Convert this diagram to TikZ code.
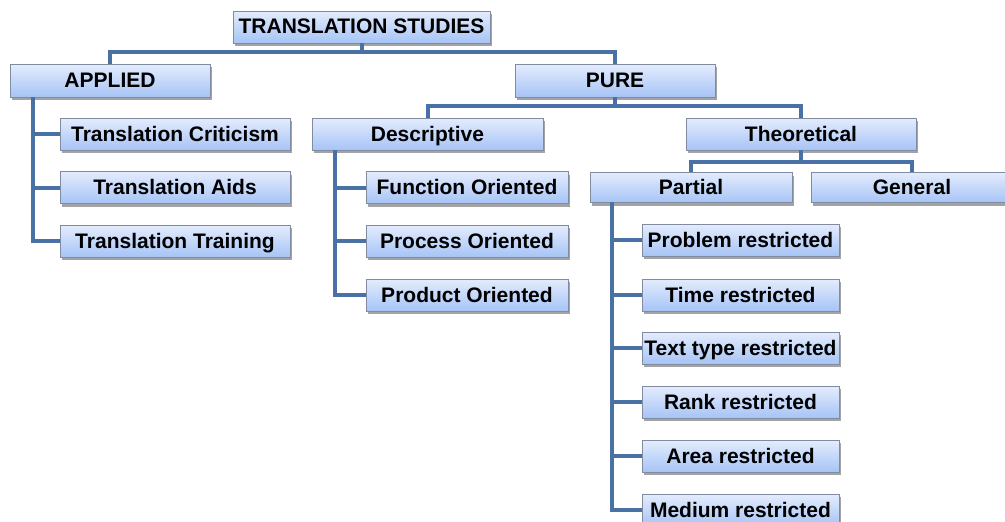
\documentclass[tikz,border=0pt]{standalone}
\usepackage{fontspec}
\setmainfont{Liberation Sans}
\usetikzlibrary{shadows}
\definecolor{boxtop}{RGB}{228,236,253}
\definecolor{boxbot}{RGB}{166,196,246}
\definecolor{boxline}{RGB}{130,140,160}
\definecolor{conncol}{RGB}{74,113,166}
\begin{document}
\begin{tikzpicture}[x=1pt,y=-1pt,
  tbox/.style={draw=boxline, line width=0.8pt, top color=boxtop, bottom color=boxbot,
    drop shadow={shadow xshift=2pt, shadow yshift=-3pt, fill=black!45, opacity=0.8},
    inner sep=0pt, minimum height=32pt, text=black, text height=16.5pt, text depth=2.5pt,
    font=\bfseries\fontsize{21}{24}\selectfont},
  conn/.style={draw=conncol, line width=4pt}]
\useasboundingbox (0,0) rectangle (1005,522);
% nodes
\node[tbox, minimum width=257pt] (ts) at (361.5,27) {TRANSLATION STUDIES};
\node[tbox, minimum width=200pt, minimum height=33pt] (applied) at (110,80.5) {APPLIED};
\node[tbox, minimum width=200pt, minimum height=33pt] (pure) at (615,80.5) {PURE};
\node[tbox, minimum width=230pt] (crit) at (175,134) {Translation Criticism};
\node[tbox, minimum width=230pt] (aids) at (175,187.5) {Translation Aids};
\node[tbox, minimum width=230pt] (train) at (175,241) {Translation Training};
\node[tbox, minimum width=231pt] (desc) at (427.5,134) {Descriptive};
\node[tbox, minimum width=230pt] (theo) at (801,134) {Theoretical};
\node[tbox, minimum width=202pt] (func) at (467,187.5) {Function Oriented};
\node[tbox, minimum width=202pt] (proc) at (467,241) {Process Oriented};
\node[tbox, minimum width=202pt] (prod) at (467,295) {Product Oriented};
\node[tbox, minimum width=202pt, minimum height=30pt] (partial) at (691,187.5) {Partial};
\node[tbox, minimum width=202pt, minimum height=30pt] (general) at (912,187.5) {General};
\node[tbox, minimum width=197pt] (problem) at (740.5,240) {Problem restricted};
\node[tbox, minimum width=197pt] (time) at (740.5,295) {Time restricted};
\node[tbox, minimum width=197pt] (texttype) at (740.5,348) {Text type restricted};
\node[tbox, minimum width=197pt] (rank) at (740.5,402) {Rank restricted};
\node[tbox, minimum width=197pt] (area) at (740.5,456) {Area restricted};
\node[tbox, minimum width=197pt] (medium) at (740.5,510) {Medium restricted};
% connectors
\draw[conn] (ts.south) -- ++(0,9) -| (applied.north);
\draw[conn] (ts.south) -- ++(0,9) -| (pure.north);
\coordinate (a0) at (33,97);
\draw[conn] (a0) |- (crit.west);
\draw[conn] (a0) |- (aids.west);
\draw[conn] (a0) |- (train.west);
\draw[conn] (pure.south) -- ++(0,9) -| (desc.north);
\draw[conn] (pure.south) -- ++(0,9) -| (theo.north);
\coordinate (d0) at (335,150);
\draw[conn] (d0) |- (func.west);
\draw[conn] (d0) |- (proc.west);
\draw[conn] (d0) |- (prod.west);
\draw[conn] (theo.south) -- ++(0,12) -| (partial.north);
\draw[conn] (theo.south) -- ++(0,12) -| (general.north);
\coordinate (p0) at (612,202);
\draw[conn] (p0) |- (problem.west);
\draw[conn] (p0) |- (time.west);
\draw[conn] (p0) |- (texttype.west);
\draw[conn] (p0) |- (rank.west);
\draw[conn] (p0) |- (area.west);
\draw[conn] (p0) |- (medium.west);
\end{tikzpicture}
\end{document}
